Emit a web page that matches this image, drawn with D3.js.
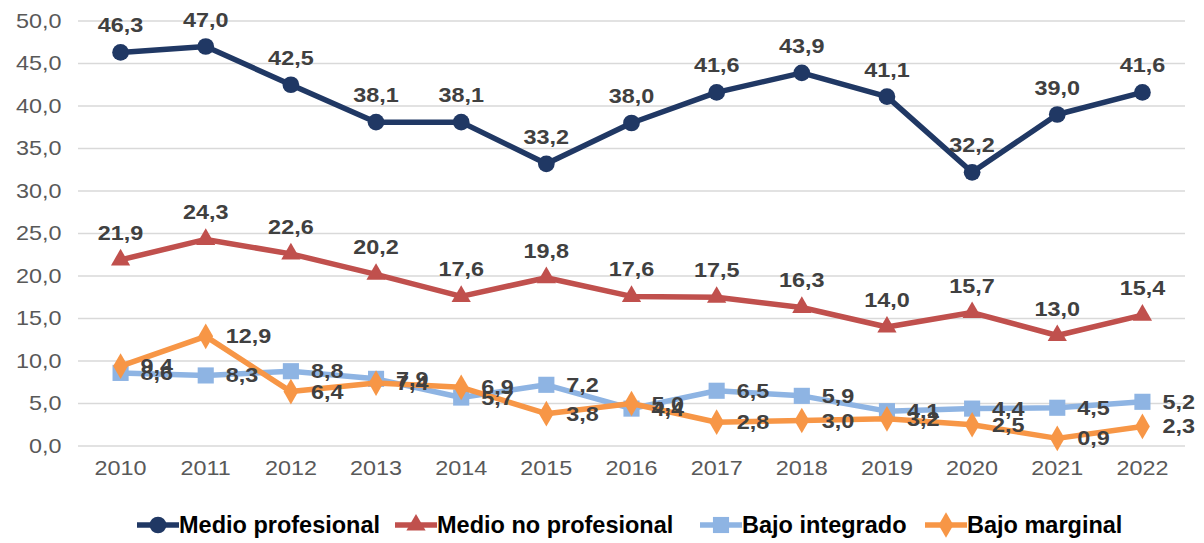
<!DOCTYPE html>
<html>
<head>
<meta charset="utf-8">
<script src="https://cdn.jsdelivr.net/npm/d3@7"></script>
<style>
  body { margin: 0; background: #fff; }
  svg { font-family: "Liberation Sans", Arial, sans-serif; }
</style>
</head>
<body>
<svg width="1204" height="543"></svg>
<script>
const years = ["2010","2011","2012","2013","2014","2015","2016","2017","2018","2019","2020","2021","2022"];
const yTicks = [0, 5, 10, 15, 20, 25, 30, 35, 40, 45, 50];

const medioProfesional = [46.3, 47.0, 42.5, 38.1, 38.1, 33.2, 38.0, 41.6, 43.9, 41.1, 32.2, 39.0, 41.6];
const medioNoProfesional = [21.9, 24.3, 22.6, 20.2, 17.6, 19.8, 17.6, 17.5, 16.3, 14.0, 15.7, 13.0, 15.4];
const bajoIntegrado = [8.6, 8.3, 8.8, 7.9, 5.7, 7.2, 4.4, 6.5, 5.9, 4.1, 4.4, 4.5, 5.2];
const bajoMarginal = [9.4, 12.9, 6.4, 7.4, 6.9, 3.8, 5.0, 2.8, 3.0, 3.2, 2.5, 0.9, 2.3];

const series = [
    { name: "Medio profesional", values: medioProfesional, color: "#203864", symbol: d3.symbolCircle, size: 220, labelPos: "top" },
    { name: "Medio no profesional", values: medioNoProfesional, color: "#C0504D", symbol: d3.symbolTriangle, size: 160, labelPos: "top" },
    { name: "Bajo integrado", values: bajoIntegrado, color: "#8EB4E3", symbol: d3.symbolSquare, size: 260, labelPos: "right" },
    { name: "Bajo marginal", values: bajoMarginal, color: "#F79646", symbol: d3.symbolDiamond, size: 190, labelPos: "right" }
];

const plotLeft = 78, plotRight = 1185;
const plotTop = 21, plotBottom = 446;
const sx = 1.17; // text in the original is a bit wider than plain Arial

const svg = d3.select("svg");
const fmt = v => d3.format(".1f")(v).replace(".", ",");

const x = d3.scaleBand()
    .domain(years)
    .range([plotLeft, plotRight]);

const y = d3.scaleLinear()
    .domain([0, 50])
    .range([plotBottom, plotTop]);

// gridlines
svg.append("g")
    .selectAll("line")
    .data(yTicks)
    .enter().append("line")
    .attr("x1", plotLeft)
    .attr("x2", plotRight)
    .attr("y1", d => y(d))
    .attr("y2", d => y(d))
    .attr("stroke", "#d9d9d9")
    .attr("stroke-width", 1.3);

// Y axis
const yAxis = svg.append("g")
    .attr("transform", `translate(${plotLeft}, 0)`)
    .call(d3.axisLeft(y).tickValues(yTicks).tickFormat(fmt).tickSize(0).tickPadding(14));
yAxis.select(".domain").remove();
yAxis.selectAll("text")
    .attr("font-size", "20px")
    .attr("fill", "#595959")
    .attr("font-family", "Liberation Sans, Arial, sans-serif")
    .attr("transform", `scale(${sx},1)`);

// X axis
const xAxis = svg.append("g")
    .attr("transform", `translate(0, ${plotBottom})`)
    .call(d3.axisBottom(x).tickSize(0).tickPadding(15));
xAxis.select(".domain").remove();
xAxis.selectAll("text")
    .attr("font-size", "20px")
    .attr("fill", "#595959")
    .attr("font-family", "Liberation Sans, Arial, sans-serif")
    .attr("transform", `scale(${sx},1)`);

const cx = i => x(years[i]) + x.bandwidth() / 2;

const line = d3.line()
    .x((d, i) => cx(i))
    .y(d => y(d));

series.forEach(s => {
    const g = svg.append("g");
    g.append("path")
        .datum(s.values)
        .attr("d", line)
        .attr("fill", "none")
        .attr("stroke", s.color)
        .attr("stroke-width", 5.5)
        .attr("stroke-linejoin", "round");

    g.selectAll("path.marker")
        .data(s.values)
        .enter().append("path")
        .attr("class", "marker")
        .attr("d", d3.symbol().type(s.symbol).size(s.size))
        .attr("transform", (d, i) => `translate(${cx(i)}, ${y(d)})`)
        .attr("fill", s.color);
});

// data labels
series.forEach(s => {
    svg.append("g")
        .selectAll("text")
        .data(s.values)
        .enter().append("text")
        .attr("transform", (d, i) => {
            const tx = s.labelPos === "top" ? cx(i) : cx(i) + 20;
            const ty = s.labelPos === "top" ? y(d) - 20 : y(d) + 7;
            return `translate(${tx}, ${ty}) scale(${sx},1)`;
        })
        .attr("text-anchor", s.labelPos === "top" ? "middle" : "start")
        .attr("font-size", "20px")
        .attr("font-weight", "bold")
        .attr("fill", "#404040")
        .text(d => fmt(d));
});

// legend
const legendX = [137, 395, 700, 925];
const legend = svg.append("g").attr("transform", "translate(0, 525)");
series.forEach((s, i) => {
    const lg = legend.append("g").attr("transform", `translate(${legendX[i]}, 0)`);
    lg.append("line")
        .attr("x1", 0).attr("x2", 42)
        .attr("y1", 0).attr("y2", 0)
        .attr("stroke", s.color)
        .attr("stroke-width", 5.5);
    lg.append("path")
        .attr("d", d3.symbol().type(s.symbol).size(s.size))
        .attr("transform", "translate(21, 0)")
        .attr("fill", s.color);
    lg.append("text")
        .attr("x", 42)
        .attr("y", 8)
        .attr("font-size", "23.5px")
        .attr("font-weight", "bold")
        .attr("fill", "#000")
        .text(s.name);
});
</script>
</body>
</html>
